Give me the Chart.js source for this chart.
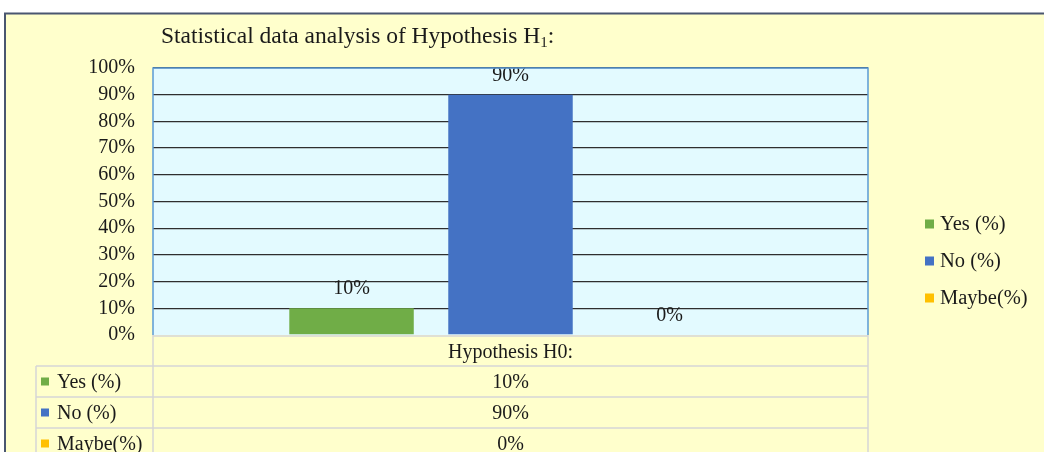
<!DOCTYPE html>
<html>
<head>
<meta charset="utf-8">
<script src="https://cdn.jsdelivr.net/npm/chart.js@4"></script>
<style>
  html, body { margin: 0; padding: 0; background: #fff; }
  canvas { display: block; }
</style>
</head>
<body>
<canvas id="chart" width="1044" height="452"></canvas>
<script>
// data
const categories = ['Hypothesis H0:'];
const seriesNames = ['Yes (%)', 'No (%)', 'Maybe(%)'];
const yesValues = [10];
const noValues = [90];
const maybeValues = [0];
const seriesColors = ['#70AD47', '#4472C4', '#FFC000'];
const titleMain = 'Statistical data analysis of Hypothesis H';
const titleSub = '1';
const titleEnd = ':';

const SERIF = '"Liberation Serif", "Times New Roman", serif';
const TEXT = '#1a1a1a';

// background, frame and plot fill
const backdrop = {
  id: 'backdrop',
  beforeDraw(chart) {
    const ctx = chart.ctx;
    const a = chart.chartArea;
    ctx.save();
    ctx.fillStyle = '#fff';
    ctx.fillRect(0, 0, chart.width, chart.height);
    ctx.fillStyle = '#FFFFCC';
    ctx.fillRect(6, 14, chart.width - 6, chart.height - 14);
    ctx.strokeStyle = '#4a5670';
    ctx.lineWidth = 2;
    ctx.beginPath();
    ctx.moveTo(5, chart.height);
    ctx.lineTo(5, 13.5);
    ctx.lineTo(chart.width, 13.5);
    ctx.stroke();
    ctx.fillStyle = '#E3FAFF';
    ctx.fillRect(a.left, a.top, a.right - a.left, a.bottom - a.top);
    ctx.restore();
  },
  afterDraw(chart) {
    const ctx = chart.ctx;
    const a = chart.chartArea;
    ctx.save();
    // plot border
    ctx.strokeStyle = '#5B9BD5';
    ctx.lineWidth = 1.5;
    ctx.beginPath();
    ctx.moveTo(a.left, a.bottom);
    ctx.lineTo(a.left, a.top);
    ctx.lineTo(a.right, a.top);
    ctx.lineTo(a.right, a.bottom);
    ctx.stroke();

    // title with subscript
    ctx.fillStyle = TEXT;
    ctx.textBaseline = 'alphabetic';
    ctx.textAlign = 'left';
    let x = 161;
    ctx.font = '23.5px ' + SERIF;
    ctx.fillText(titleMain, x, 43);
    x += ctx.measureText(titleMain).width;
    ctx.font = '15px ' + SERIF;
    ctx.fillText(titleSub, x, 47);
    x += ctx.measureText(titleSub).width;
    ctx.font = '23.5px ' + SERIF;
    ctx.fillText(titleEnd, x, 43);

    // legend
    const sets = chart.data.datasets;
    ctx.font = '20.5px ' + SERIF;
    ctx.textBaseline = 'middle';
    sets.forEach((ds, i) => {
      const y = 224 + i * 37;
      ctx.fillStyle = ds.backgroundColor;
      ctx.fillRect(925, y - 4.5, 9, 9);
      ctx.fillStyle = TEXT;
      ctx.fillText(ds.label, 940, y + 1);
    });

    // data table
    const rowTop = [366, 397, 428];
    ctx.strokeStyle = '#D6D6D6';
    ctx.lineWidth = 1.5;
    ctx.beginPath();
    ctx.moveTo(a.left, a.bottom + 1);
    ctx.lineTo(a.right, a.bottom + 1);
    rowTop.forEach(y => { ctx.moveTo(36, y); ctx.lineTo(a.right, y); });
    ctx.moveTo(36, rowTop[0]); ctx.lineTo(36, chart.height);
    ctx.moveTo(a.left, a.bottom); ctx.lineTo(a.left, chart.height);
    ctx.moveTo(a.right, a.bottom); ctx.lineTo(a.right, chart.height);
    ctx.stroke();

    const cx = (a.left + a.right) / 2;
    ctx.font = '20px ' + SERIF;
    sets.forEach((ds, i) => {
      const y = rowTop[i] + 15.5;
      ctx.fillStyle = ds.backgroundColor;
      ctx.fillRect(41, y - 4, 8, 8);
      ctx.fillStyle = TEXT;
      ctx.textAlign = 'left';
      ctx.fillText(ds.label, 57, y + 1);
      ctx.textAlign = 'center';
      ctx.fillText(ds.data[0] + '%', cx, y + 1);
    });
    ctx.restore();
  }
};

// value labels above the bars
const barLabels = {
  id: 'barLabels',
  afterDatasetsDraw(chart) {
    const ctx = chart.ctx;
    ctx.save();
    ctx.font = '20px ' + SERIF;
    ctx.fillStyle = TEXT;
    ctx.textAlign = 'center';
    ctx.textBaseline = 'alphabetic';
    chart.data.datasets.forEach((ds, i) => {
      chart.getDatasetMeta(i).data.forEach((bar, j) => {
        ctx.fillText(ds.data[j] + '%', bar.x, bar.y - 14);
      });
    });
    ctx.restore();
  }
};

const seriesValues = [yesValues, noValues, maybeValues];

new Chart(document.getElementById('chart'), {
  type: 'bar',
  data: {
    labels: categories,
    datasets: seriesNames.map((name, i) => ({
      label: name,
      data: seriesValues[i],
      backgroundColor: seriesColors[i],
      borderWidth: 0,
      categoryPercentage: 0.667,
      barPercentage: 0.783
    }))
  },
  options: {
    responsive: false,
    animation: false,
    devicePixelRatio: 1,
    layout: { padding: { top: 68, right: 176, left: 0, bottom: 0 } },
    plugins: {
      legend: { display: false },
      tooltip: { enabled: false },
      title: { display: false }
    },
    scales: {
      x: {
        afterFit(scale) { scale.height = 117; },
        grid: { display: false, drawTicks: false },
        border: { display: false },
        ticks: {
          padding: 6,
          color: TEXT,
          font: { family: SERIF, size: 20 }
        }
      },
      y: {
        min: 0,
        max: 100,
        afterFit(scale) { scale.width = 153; },
        grid: {
          color: c => (c.tick && c.tick.value === 0) ? 'rgba(0,0,0,0)' : '#2e2e2e',
          lineWidth: 1.3,
          drawTicks: false
        },
        border: { display: false },
        ticks: {
          stepSize: 10,
          autoSkip: false,
          padding: 18,
          color: TEXT,
          font: { family: SERIF, size: 20 },
          callback: v => v + '%'
        }
      }
    }
  },
  plugins: [backdrop, barLabels]
});
</script>
</body>
</html>
